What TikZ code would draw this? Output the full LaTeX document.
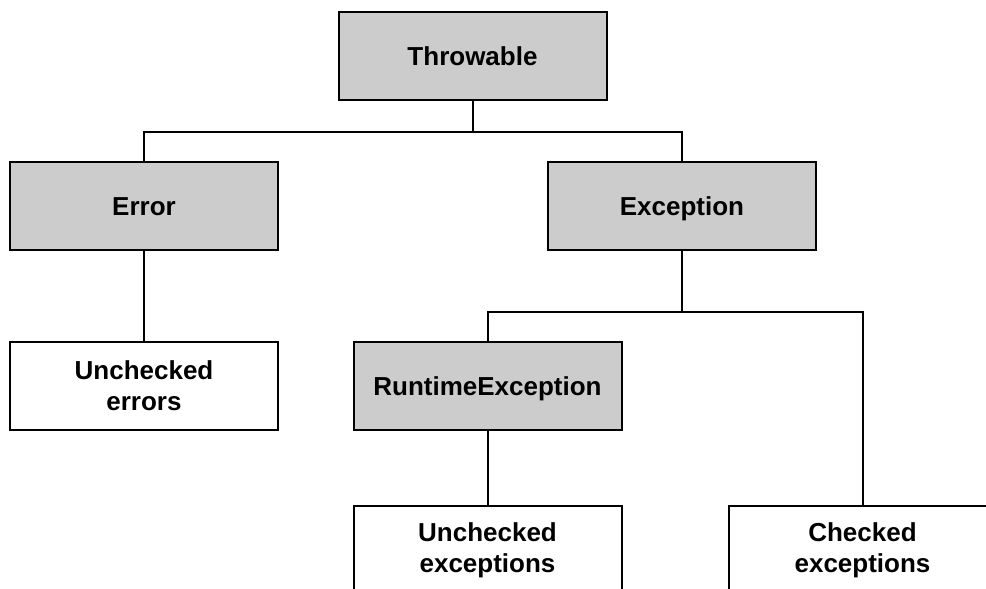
\documentclass[tikz,border=0pt]{standalone}
\usepackage{fontspec}
\setmainfont{Liberation Sans}
\tikzstyle{block} = [rectangle, draw, line width=2pt, fill=gray!40,
    minimum width=268pt, minimum height=88pt, inner sep=0pt,
    text height=19pt, text depth=0pt,
    align=center, font=\fontsize{26}{31}\selectfont\bfseries]
\tikzstyle{leaf} = [rectangle, draw, line width=2pt, fill=white,
    minimum width=268pt, minimum height=88pt, inner sep=0pt,
    align=center, font=\fontsize{26}{31}\selectfont\bfseries]
\tikzstyle{line} = [draw, line width=2pt]

\begin{document}
\begin{tikzpicture}[x=1pt, y=-1pt]
    \clip (0,0) rectangle (986,589);
    % Place nodes
    \node [block] (throwable) at (472.5,55.5) {Throwable};
    \node [block] (error) at (144,206) {Error};
    \node [block] (exception) at (682,205.5) {Exception};
    \node [leaf] (uncheckederr) at (144,385.5) {Unchecked\\errors};
    \node [block] (runtime) at (487.5,385.5) {RuntimeException};
    \node [leaf] (uncheckedexc) at (487.5,550) {Unchecked\\exceptions};
    \node [leaf] (checkedexc) at (862.5,550) {Checked\\exceptions};

    % Draw edges
    \path [line] (throwable.south) -- ++(0,31) -| (error.north);
    \path [line] (throwable.south) -- ++(0,31) -| (exception.north);
    \path [line] (error) -- (uncheckederr);
    \path [line] (exception.south) -- ++(0,61) -| (runtime.north);
    \path [line] (exception.south) -- ++(0,61) -| (checkedexc.north);
    \path [line] (runtime) -- (uncheckedexc);
\end{tikzpicture}
\end{document}
